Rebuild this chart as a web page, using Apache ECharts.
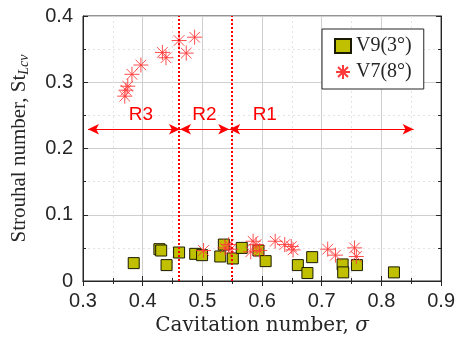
<!DOCTYPE html>
<html><head><meta charset="utf-8">
<script src="https://cdn.jsdelivr.net/npm/echarts@6/dist/echarts.min.js"></script>
<style>html,body{margin:0;padding:0;background:#fff}#c{width:458px;height:346px}</style>
</head><body><div id="c"></div>
<script>
// V9 (3 deg) data
const v9Sigma = [0.385,0.428,0.431,0.440,0.461,0.488,0.4995,0.530,0.536,0.551,0.566,0.594,0.606,0.660,0.676,0.684,0.735,0.736,0.759,0.821];
const v9St    = [0.027,0.048,0.046,0.024,0.043,0.041,0.039,0.037,0.055,0.034,0.050,0.046,0.030,0.024,0.012,0.036,0.025,0.013,0.024,0.013];
// V7 (8 deg) data
const v7Sigma = [0.370,0.372,0.375,0.382,0.397,0.433,0.439,0.461,0.473,0.487,0.502,0.538,0.544,0.548,0.581,0.585,0.590,0.596,0.622,0.638,0.649,0.652,0.710,0.723,0.755,0.758];
const v7St    = [0.279,0.288,0.294,0.312,0.326,0.345,0.337,0.363,0.344,0.368,0.046,0.050,0.055,0.048,0.044,0.060,0.055,0.046,0.060,0.055,0.052,0.047,0.048,0.039,0.050,0.037];
// regime boundaries and arrows
const boundaries = [0.4625, 0.545];
const regionNames = ['R3','R2','R1'];
const regionStart = [0.3083, 0.4625, 0.545];
const regionEnd   = [0.4625, 0.545, 0.854];
const arrowSt = 0.229;
const labelSigma = [0.397, 0.5035, 0.6046];
const labelSt = 0.2515;
const xTicks = [0.3,0.4,0.5,0.6,0.7,0.8,0.9];
const yTicks = [0,0.1,0.2,0.3,0.4];

const chart = echarts.init(document.getElementById('c'), null, {renderer:'canvas'});
const starPath = 'path://M0,-10L0,10M-10,0L10,0M-7.07,-7.07L7.07,7.07M-7.07,7.07L7.07,-7.07';
const serif = '"Liberation Serif", "DejaVu Serif", serif';
const serifWide = '"DejaVu Serif", "Liberation Serif", serif';
const sans = '"Liberation Sans", Arial, sans-serif';
const axisCommon = {
  axisLine:{show:true, lineStyle:{color:'#262626', width:1}},
  axisTick:{show:true, inside:true, length:5, lineStyle:{color:'#262626'}},
  minorTick:{show:true, splitNumber:2, length:3, lineStyle:{color:'#262626'}}
};
chart.setOption({
  animation:false,
  backgroundColor:'#fff',
  grid:{left:83, right:13, top:16, bottom:65, show:true, borderColor:'#262626', borderWidth:1, backgroundColor:'#fff'},
  legend:{
    data:['V9(3°)','V7(8°)'], orient:'vertical', left:322, top:29,
    backgroundColor:'#fff', borderColor:'#262626', borderWidth:1,
    padding:[7,12,7,12], itemGap:6, itemWidth:16, itemHeight:14,
    textStyle:{fontFamily:serif, fontSize:20, color:'#262626'}
  },
  xAxis:[{
    type:'value', min:xTicks[0], max:xTicks[xTicks.length-1], interval:0.1,
    name:'{a|Cavitation number, }{b|σ}', nameLocation:'middle', nameGap:35,
    nameTextStyle:{fontFamily:serifWide, fontSize:20, color:'#262626',
      rich:{a:{fontFamily:serifWide, fontSize:20, color:'#262626'},
            b:{fontFamily:serifWide, fontSize:20, fontStyle:'italic', color:'#262626'}}},
    axisLabel:{fontFamily:sans, fontSize:20, color:'#262626', margin:10, formatter:v=>+v.toFixed(1)+''},
    splitLine:{show:true, lineStyle:{color:'#cfcfcf', width:1}},
    minorSplitLine:{show:true, lineStyle:{color:'#e3e3e3', type:[2,3], width:1}},
    ...axisCommon
  },{
    type:'value', position:'top', min:xTicks[0], max:xTicks[xTicks.length-1], interval:0.1,
    axisLabel:{show:false}, splitLine:{show:false}, ...axisCommon
  }],
  yAxis:[{
    type:'value', min:yTicks[0], max:yTicks[yTicks.length-1], interval:0.1,
    name:'{a|Strouhal number, St}{s|Lcv}', nameLocation:'middle', nameGap:52, nameRotate:90,
    nameTextStyle:{fontFamily:serif, fontSize:21, color:'#262626',
      rich:{a:{fontFamily:serif, fontSize:21, color:'#262626'},
            s:{fontFamily:serif, fontSize:14, fontStyle:'italic', color:'#262626', padding:[10,0,0,0]}}},
    axisLabel:{fontFamily:sans, fontSize:20, color:'#262626', margin:10, formatter:v=>v===0?'0':+v.toFixed(1)+''},
    splitLine:{show:true, lineStyle:{color:'#cfcfcf', width:1}},
    minorSplitLine:{show:true, lineStyle:{color:'#e3e3e3', type:[2,3], width:1}},
    ...axisCommon
  },{
    type:'value', position:'right', min:yTicks[0], max:yTicks[yTicks.length-1], interval:0.1,
    axisLabel:{show:false}, splitLine:{show:false}, ...axisCommon
  }],
  series:[
    {
      name:'V9(3°)', type:'scatter', symbol:'rect', symbolSize:11, z:3,
      itemStyle:{color:'#c0c000', borderColor:'#1a1a00', borderWidth:1, opacity:1},
      data:v9Sigma.map((s,i)=>[s, v9St[i]])
    },
    {
      name:'V7(8°)', type:'scatter', symbol:starPath, symbolSize:15, z:4,
      itemStyle:{color:'rgba(0,0,0,0)', borderColor:'#ff3a3a', borderWidth:0.9, opacity:1},
      data:v7Sigma.map((s,i)=>[s, v7St[i]]),
      markLine:{
        silent:true, symbol:'none', label:{show:false}, z:5,
        lineStyle:{color:'#ff0000', type:[2,2], width:2},
        data:boundaries.map(b=>({xAxis:b}))
      }
    },
    {
      name:'arrows', type:'scatter', data:[], z:5,
      markLine:{
        silent:true, symbol:['arrow','arrow'], symbolSize:[8,11], label:{show:false},
        lineStyle:{color:'#ff0000', type:'solid', width:1.2},
        data:regionNames.map((n,i)=>[{coord:[regionStart[i], arrowSt]},{coord:[regionEnd[i], arrowSt]}])
      },
      markPoint:{
        silent:true, symbol:'circle', symbolSize:0,
        label:{show:true, position:'inside', fontFamily:sans, fontSize:19, color:'#ff0000', formatter:p=>p.name},
        data:regionNames.map((n,i)=>({name:n, coord:[labelSigma[i], labelSt]}))
      }
    }
  ]
});
</script></body></html>
